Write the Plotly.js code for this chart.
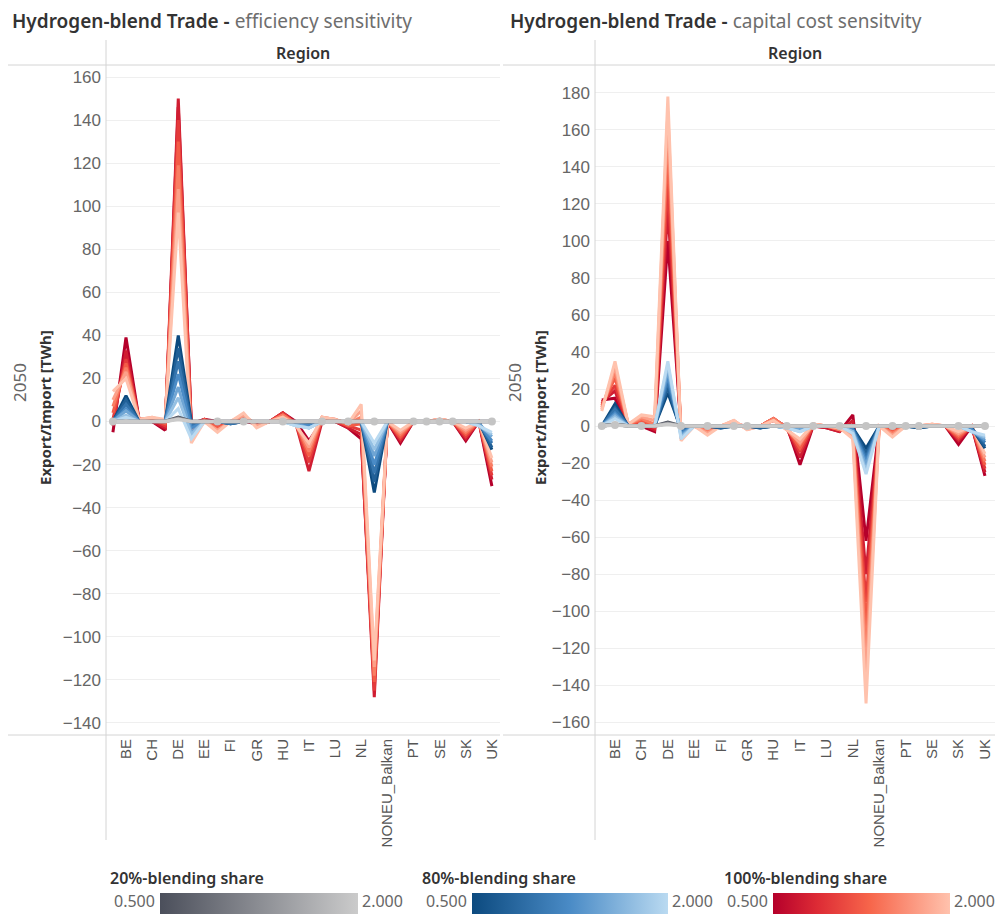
<!DOCTYPE html>
<html><head><meta charset="utf-8">
<script src="https://cdn.plot.ly/plotly-3.0.1.min.js"></script>
<style>html,body{margin:0;padding:0;background:#fff;} #chart{width:995px;height:914px;}</style>
</head><body><div id="chart"></div>
<script>
// ---------------- DATA ----------------
const regions = ['BE','CH','DE','EE','FI','GR','HU','IT','LU','NL','NONEU_Balkan','PT','SE','SK','UK'];
const regionPos = [0,1,2,3,4,5,6,7,8,9,10,11,12,13,14];
// half-step slots along the Region axis
const slots = [-0.5,0,0.5,1,1.5,2,2.5,3,3.5,4,4.5,5,5.5,6,6.5,7,7.5,8,8.5,9,9.5,10,10.5,11,11.5,12,12.5,13,13.5,14];
const shares = [0.5,0.75,1.0,1.25,1.5,1.75,2.0];
const grayShares = [0.5,1.25,2.0];
const yTicksLeft = [-140,-120,-100,-80,-60,-40,-20,0,20,40,60,80,100,120,140,160];
const yTicksRight = [-160,-140,-120,-100,-80,-60,-40,-20,0,20,40,60,80,100,120,140,160,180];

// efficiency sensitivity (left)
const effRed = [
  [-5,39,1,0,-4,146,-1,1,0,0,0,-1,0,4,0,-9,0,0,-3,-8,-122,0,-10,0,0,0,0,-9,0,-30],
  [-2,33,1,0,-3,150,-2,1,-1,0,1,-1,0,4,-1,-23,0,0,-3,-6,-128,0,-9,0,0,0,0,-8,0,-27],
  [1,29,1,1,-2,140,-3,1,-2,0,2,-1,0,4,-1,-19,1,0,-2,-4,-125,0,-8,0,0,0,0,-7,0,-25],
  [4,27,1,1,-1,130,-5,1,-3,0,2,-2,0,3,-1,-16,1,1,-2,-1,-121,0,-7,0,0,1,0,-6,0,-23],
  [7,25,1,1,0,119,-6,0,-4,0,3,-2,0,3,-1,-14,2,1,-1,2,-118,0,-6,0,0,1,0,-5,0,-21],
  [10,23,1,2,0,108,-8,0,-4,0,3,-2,0,2,-1,-12,2,1,-1,5,-114,0,-5,0,0,1,0,-4,0,-19],
  [14,20,1,2,1,97,-10,0,-5,0,4,-3,0,2,-2,-10,2,1,-1,8,-111,0,-4,0,0,1,0,-3,0,-17]
];
const effBlue = [
  [0,12,0,0,0,40,0,0,0,-1,0,0,0,0,0,-1,0,0,0,0,-33,0,0,0,0,0,0,0,0,-13],
  [0,10,0,0,0,34,-1,0,0,-1,0,0,0,0,0,-1,0,0,0,0,-28,0,0,0,0,0,0,0,0,-12],
  [0,8,0,0,0,28,-2,0,0,-1,0,0,0,0,-1,-2,0,0,0,0,-24,0,0,0,0,0,0,0,-1,-10],
  [0,6,0,0,0,22,-3,0,0,0,0,0,0,0,-1,-2,0,0,0,0,-20,0,0,0,0,0,0,0,-1,-9],
  [0,5,0,0,0,16,-5,0,0,0,0,0,0,0,-1,-3,0,0,0,0,-16,0,0,0,0,0,0,0,-1,-7],
  [0,3,0,0,0,11,-6,0,0,0,0,0,0,0,-2,-3,0,0,0,0,-13,0,0,0,0,0,0,0,-2,-6],
  [0,2,0,0,0,6,-8,0,0,0,0,0,0,0,-2,-3,0,0,0,0,-10,0,0,0,0,0,0,0,-2,-5]
];
const effGray = [
  [0,0,0,0,0,2,0,0,0,0,0,0,0,0,0,0,0,0,0,0,0,0,0,0,0,0,0,0,0,0],
  [0,0,0,0,0,1.5,0,0,0,0,0,0,0,0,0,0,0,0,0,0,0,0,0,0,0,0,0,0,0,0],
  [0,0,0,0,0,1,0,0,0,0,0,0,0,0,0,0,0,0,0,0,0,0,0,0,0,0,0,0,0,0]
];
const effDots = [0,8,10,13,16,18,20,23,24,25,26,29];

// capital cost sensitivity (right)
const capRed = [
  [14,15,0,0,-3,100,-2,0,0,0,0,0,0,3,0,-21,0,-1,-3,6,-62,0,-2,0,0,0,0,-10,0,-27],
  [13,19,0,1,-2,118,-3,0,-1,0,1,0,0,4,-1,-17,0,-1,-3,3,-80,0,-2,0,0,0,0,-8,0,-25],
  [12,22,1,2,-1,132,-4,0,-2,0,1,-1,0,4,-1,-14,0,0,-2,0,-95,0,-3,0,0,0,0,-7,0,-23],
  [11,26,1,3,0,148,-5,0,-3,0,2,-1,0,4,-1,-12,1,0,-2,-2,-108,0,-3,0,0,0,0,-6,0,-21],
  [10,29,1,4,1,160,-6,0,-3,0,2,-1,0,4,-1,-10,1,0,-2,-3,-122,0,-4,0,0,1,0,-5,0,-19],
  [9,32,1,5,3,170,-7,0,-4,0,3,-2,0,3,-2,-9,1,0,-1,-5,-135,0,-5,0,0,1,0,-4,0,-17],
  [8,35,1,6,5,178,-8,0,-5,0,3,-2,0,3,-2,-7,1,0,-1,-7,-150,0,-6,0,0,1,0,-3,0,-15]
];
const capBlue = [
  [0,12,0,0,0,18,-2,0,0,-1,0,0,-1,0,0,-1,0,0,0,-1,-12,0,0,0,-1,0,0,0,-1,-12],
  [0,10,0,0,0,21,-3,0,0,-1,0,0,-1,0,-1,-1,0,0,0,-1,-15,0,0,0,-1,0,0,0,-1,-11],
  [0,9,0,0,0,24,-3,0,0,0,0,0,0,0,-1,-2,0,0,0,-2,-17,0,0,0,0,0,0,0,-2,-9],
  [0,7,0,0,0,27,-4,0,0,0,0,0,0,0,-1,-2,0,0,0,-2,-19,0,0,0,0,0,0,0,-2,-8],
  [0,6,0,0,0,30,-5,0,0,0,0,0,0,0,-1,-2,0,0,0,-3,-21,0,0,0,0,0,0,0,-3,-7],
  [0,5,0,0,0,33,-6,0,0,0,0,0,0,0,-1,-3,0,0,0,-3,-24,0,0,0,0,0,0,0,-3,-6],
  [0,4,0,0,0,35,-7,0,0,0,0,0,0,0,-1,-3,0,0,0,-4,-26,0,0,0,0,0,0,0,-3,-5]
];
const capGray = [
  [0,1,0,0,0,2,0,0,0,0,0,0,0,0,0,0,0,0,0,0,0,0,0,0,0,0,0,0,0,0],
  [0,1,0,0,0,1.5,0,0,0,0,0,0,0,0,0,0,0,0,0,0,0,0,0,0,0,0,0,0,0,0],
  [0,0.5,0,0,0,1,0,0,0,0,0,0,0,0,0,0,0,0,0,0,0,0,0,0,0,0,0,0,0,0]
];
const capDots = [0,1,3,6,8,10,11,14,16,18,20,22,23,24,27,29];

const legendMin = '0.500', legendMax = '2.000';

// ---------------- STYLE ----------------
const grayStops = [[0,'#4b4f5b'],[1,'#cbcbcb']];
const blueStops = [[0,'#0c4a7f'],[0.5,'#4a8bc6'],[1,'#badaf1']];
const redStops  = [[0,'#b5002b'],[0.25,'#dd2b35'],[0.55,'#f7664b'],[1,'#ffc2ad']];

function hexToRgb(h){return [1,3,5].map(i=>parseInt(h.slice(i,i+2),16));}
function scaleColor(stops,t){
  for(let i=1;i<stops.length;i++){
    if(t<=stops[i][0]+1e-9){
      const a=stops[i-1],b=stops[i];const f=(t-a[0])/(b[0]-a[0]);
      const ca=hexToRgb(a[1]),cb=hexToRgb(b[1]);
      return 'rgb('+ca.map((c,j)=>Math.round(c+(cb[j]-c)*f)).join(',')+')';
    }
  }
  return stops[stops.length-1][1];
}
const tOf = s => (s-0.5)/1.5;

const traces = [];
function addGroup(values, shareList, stops, xa, ya, width){
  values.forEach((ys,i)=>{
    traces.push({type:'scatter',mode:'lines',x:slots,y:ys,xaxis:xa,yaxis:ya,
      line:{color:scaleColor(stops,tOf(shareList[i])),width:width},hoverinfo:'skip'});
  });
}
function addDots(idx, grayVals, xa, ya){
  traces.push({type:'scatter',mode:'markers',x:idx.map(i=>slots[i]),y:idx.map(i=>grayVals[i]),
    xaxis:xa,yaxis:ya,marker:{color:'#c4c4c4',size:8},hoverinfo:'skip'});
}
addGroup(effRed, shares, redStops, 'x','y',3);
addGroup(effBlue, shares, blueStops, 'x','y',3);
addGroup(effGray, grayShares, grayStops, 'x','y',3.5);
addDots(effDots, effGray[2], 'x','y');
addGroup(capRed, shares, redStops, 'x2','y2',3);
addGroup(capBlue, shares, blueStops, 'x2','y2',3);
addGroup(capGray, grayShares, grayStops, 'x2','y2',3.5);
addDots(capDots, capGray[2], 'x2','y2');

const W=995,H=914;
const px=v=>v/W, py=v=>1-v/H;
const tickFont={family:'Liberation Sans, Arial, sans-serif',size:17,color:'#666'};
const xTickFont={family:'Liberation Sans, Arial, sans-serif',size:15,color:'#555'};
const baseX={tickvals:regionPos,ticktext:regions,tickangle:-90,tickfont:xTickFont,showgrid:false,zeroline:false,showline:false,ticks:'',fixedrange:true};
const baseY={showgrid:true,gridcolor:'#efefef',gridwidth:1,zeroline:false,showline:false,ticks:'',tickfont:tickFont,fixedrange:true,ticklabelstandoff:4};

const F='Noto Sans, Open Sans, sans-serif';
const ann=[];
function A(x,y,text,opts){ann.push(Object.assign({xref:'paper',yref:'paper',x:px(x),y:py(y),text:text,showarrow:false},opts));}
// titles
A(10,21,'<span style="font-weight:600">Hydrogen-blend Trade - </span><span style="color:#6e6e6e">efficiency sensitivity</span>',{xanchor:'left',yanchor:'middle',font:{family:F,size:19,color:'#333'}});
A(508,21,'<span style="font-weight:600">Hydrogen-blend Trade - </span><span style="color:#6e6e6e">capital cost sensitvity</span>',{xanchor:'left',yanchor:'middle',font:{family:F,size:19,color:'#333'}});
// headers
A(303,53,'Region',{xanchor:'center',yanchor:'middle',font:{family:F,size:16,color:'#333',weight:600}});
A(795,53,'Region',{xanchor:'center',yanchor:'middle',font:{family:F,size:16,color:'#333',weight:600}});
// y labels
A(19,383,'2050',{xanchor:'center',yanchor:'middle',textangle:-90,font:{family:F,size:17,color:'#666'}});
A(45,408,'Export/Import [TWh]',{xanchor:'center',yanchor:'middle',textangle:-90,font:{family:F,size:15,color:'#333',weight:700}});
A(514,383,'2050',{xanchor:'center',yanchor:'middle',textangle:-90,font:{family:F,size:17,color:'#666'}});
A(540,408,'Export/Import [TWh]',{xanchor:'center',yanchor:'middle',textangle:-90,font:{family:F,size:15,color:'#333',weight:700}});
// legends
const legends=[
  {title:'20%-blending share',tx:108,bar:[160,358],stops:grayStops},
  {title:'80%-blending share',tx:420,bar:[472,668],stops:blueStops},
  {title:'100%-blending share',tx:722,bar:[773,950],stops:redStops}
];
const images=[];
function gradSvg(stops){
  const st=stops.map(s=>'<stop offset="'+(s[0]*100)+'%" stop-color="'+s[1]+'"/>').join('');
  const svg='<svg xmlns="http://www.w3.org/2000/svg" width="200" height="20" viewBox="0 0 200 20" preserveAspectRatio="none"><defs><linearGradient id="g" x1="0" x2="1" y1="0" y2="0">'+st+'</linearGradient></defs><rect x="0" y="0" width="200" height="20" fill="url(#g)"/></svg>';
  return 'data:image/svg+xml;charset=utf-8,'+encodeURIComponent(svg);
}
legends.forEach(L=>{
  A(L.tx,878,L.title,{xanchor:'left',yanchor:'middle',font:{family:F,size:16,color:'#333',weight:600}});
  A(L.bar[0]-3,901,legendMin,{xanchor:'right',yanchor:'middle',font:{family:F,size:16,color:'#666'}});
  A(L.bar[1]+2,901,legendMax,{xanchor:'left',yanchor:'middle',font:{family:F,size:16,color:'#666'}});
  images.push({source:gradSvg(L.stops),xref:'paper',yref:'paper',x:px(L.bar[0]),y:py(893),sizex:px(L.bar[1]-L.bar[0]),sizey:21/H,xanchor:'left',yanchor:'top',sizing:'stretch',layer:'above'});
});
// frame lines
const shapes=[];
function Ln(x0,y0,x1,y1){shapes.push({type:'line',xref:'paper',yref:'paper',x0:px(x0),y0:py(y0),x1:px(x1),y1:py(y1),line:{color:'#d4d4d4',width:1}});}
Ln(8,65,500,65); Ln(8,735,500,735); Ln(106,40,106,840);
Ln(503,65,995,65); Ln(503,735,995,735); Ln(595,40,595,840);

const layout={
  width:W,height:H,margin:{l:0,r:0,t:0,b:0},paper_bgcolor:'#fff',plot_bgcolor:'#fff',showlegend:false,
  xaxis:Object.assign({},baseX,{domain:[px(106),px(500)],range:[-0.765,14.31],anchor:'y'}),
  yaxis:Object.assign({},baseY,{domain:[py(735),py(68)],range:[-145.6,164.2],tickvals:yTicksLeft,anchor:'x'}),
  xaxis2:Object.assign({},baseX,{domain:[px(595),1],range:[-0.757,14.38],anchor:'y2'}),
  yaxis2:Object.assign({},baseY,{domain:[py(735),py(68)],range:[-167,193.5],tickvals:yTicksRight,anchor:'x2'}),
  annotations:ann,shapes:shapes,images:images
};
Plotly.newPlot('chart',traces,layout,{staticPlot:true,displayModeBar:false});
</script></body></html>
